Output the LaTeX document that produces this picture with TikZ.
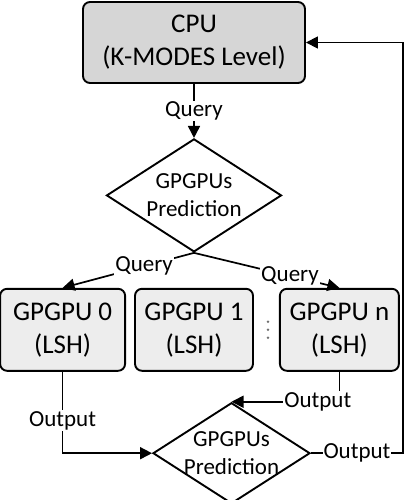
\documentclass[tikz,border=0pt]{standalone}
\usepackage{fontspec}
\setmainfont{Carlito}
\usetikzlibrary{shapes.geometric,arrows.meta,positioning,calc}

\definecolor{cpugray}{HTML}{D6D6D6}
\definecolor{gpugray}{HTML}{EDEDED}
\definecolor{dotgray}{HTML}{707070}

\tikzset{
  unit/.style={draw, rounded corners=7pt, line width=1.9pt, align=center,
    font=\fontsize{27}{33}\selectfont, minimum height=82pt, inner sep=0pt},
  decision/.style={draw, diamond, aspect=1.8, inner xsep=-15pt, inner ysep=0pt,
    line width=1.9pt, align=center, font=\fontsize{23}{28}\selectfont},
  lbl/.style={fill=white, inner sep=1pt, font=\fontsize{23}{28}\selectfont},
  flow/.style={-{Triangle[length=12pt,width=12pt]}, line width=1.7pt},
}

\begin{document}
\begin{tikzpicture}[x=1pt,y=1pt]
            \useasboundingbox (0,0) rectangle (405,-500);
            \node[unit,fill=cpugray,minimum width=222pt,minimum height=81pt] (cpu) at (194,-42.5) {CPU\\(K-MODES Level)};
            \node[decision,minimum width=175pt,minimum height=113pt] (pred1) [below=54pt of cpu] {GPGPUs\\Prediction};
            \node[unit,fill=gpugray,minimum width=118pt] (gpu1) [below=35pt of pred1] {GPGPU 1\\(LSH)};
            \node[unit,fill=gpugray,minimum width=125pt] (gpu0) [left=8pt of gpu1] {GPGPU 0\\(LSH)};
            \node[unit,fill=gpugray,minimum width=119pt] (gpun) [right=25pt of gpu1] {GPGPU n\\(LSH)};
            \node[decision,minimum width=157pt,minimum height=101pt] (pred2) [below=30pt of gpu1,xshift=37.5pt] {GPGPUs\\Prediction};
            \coordinate[right=92pt of pred2.east] (back);
            \foreach \dy in {-8,0,8}
              \fill[dotgray] ($(gpu1.east)!0.5!(gpun.west)+(1.5,\dy)$) circle (1.4pt);
            \draw[flow] (cpu.south) -- node[lbl]{Query} (pred1.north);
            \draw[flow] (pred1.south) -- node[lbl,pos=0.38]{Query} (gpu0.north);
            \draw[flow] (pred1.south) -- node[lbl,pos=0.66]{Query} (gpun.north);
            \draw[flow] (gpu0.south) |- node[lbl,pos=0.3]{Output} (pred2.west);
            \draw[flow] (gpun.south) |- node[lbl,pos=0.6]{Output} (pred2.north);
            \draw[flow] (pred2.east) -- node[lbl]{Output} (back) |- (cpu.east);
        \end{tikzpicture}
\end{document}
